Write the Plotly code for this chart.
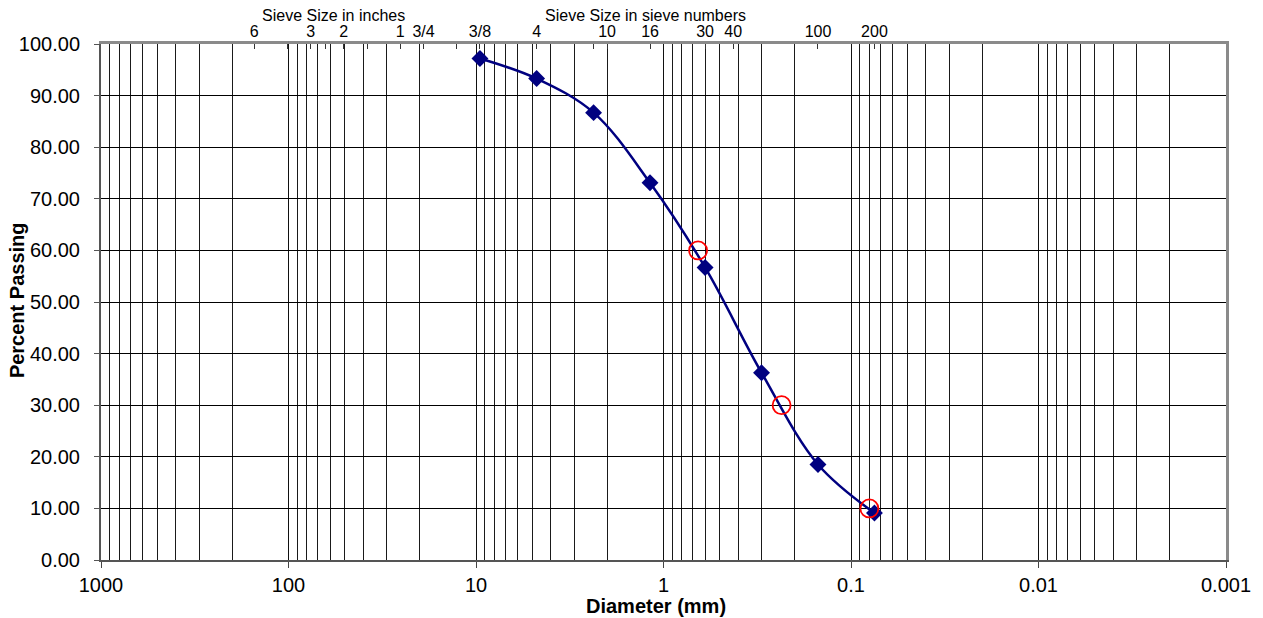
import plotly.graph_objects as go

# Sieve analysis data
sieve_mm = [9.525, 4.75, 2.36, 1.18, 0.6, 0.3, 0.15, 0.075]
percent_passing = [97.2, 93.3, 86.7, 73.1, 56.7, 36.3, 18.5, 9.1]

# D60, D30, D10 marks
d_mm = [0.654, 0.2345, 0.0798]
d_pct = [60, 30, 10]

# Bottom axis ticks
x_ticks = [1000, 100, 10, 1, 0.1, 0.01, 0.001]
x_ticktext = ["1000", "100", "10", "1", "0.1", "0.01", "0.001"]

# Top axis (sieve) ticks
top_vals = [152.4, 101.6, 76.2, 63.5, 50.8, 38.1, 25.4, 19.05, 12.7, 9.525,
            4.75, 2.36, 2.0, 1.18, 0.6, 0.425, 0.15, 0.075]
top_text = ["6", " ", "3", " ", "2", " ", "1", "3/4", " ", "3/8",
            "4", " ", "10", "16", "30", "40", "100", "200"]

y_ticks = [0, 10, 20, 30, 40, 50, 60, 70, 80, 90, 100]

minor_vals = [k * 10.0 ** e for e in range(-3, 3) for k in range(2, 10)]

FONT = "Liberation Sans, Arial, sans-serif"

fig = go.Figure()
fig.add_trace(go.Scatter(
    x=sieve_mm, y=percent_passing, mode="lines+markers",
    line=dict(color="#000080", width=2.5, shape="spline", smoothing=1.0),
    marker=dict(symbol="diamond", size=13, color="#000080"),
    showlegend=False, hoverinfo="x+y",
))
fig.add_trace(go.Scatter(
    x=d_mm, y=d_pct, mode="markers", xaxis="x2", yaxis="y2",
    marker=dict(symbol="circle-open", size=18, color="#FF0000", line=dict(width=1.8, color="#FF0000")),
    showlegend=False,
))

fig.update_layout(
    width=1263, height=618,
    margin=dict(l=101, r=35, t=44, b=58),
    paper_bgcolor="white", plot_bgcolor="white",
    font=dict(family=FONT, color="black"),
    xaxis=dict(
        type="log", range=[3, -3], tickvals=x_ticks, ticktext=x_ticktext,
        tickfont=dict(size=20), ticks="outside", ticklen=6, tickcolor="#444",
        ticklabelstandoff=0,
        showgrid=True, gridcolor="#111", gridwidth=1,
        minor=dict(tickvals=minor_vals, showgrid=True, gridcolor="#1a1a1a", gridwidth=1, ticks=""),
        showline=True, linecolor="#555", linewidth=2, zeroline=False,
    ),
    xaxis2=dict(
        type="log", range=[3, -3], overlaying="x", side="top",
        tickvals=top_vals, ticktext=top_text, tickfont=dict(size=16),
        ticks="inside", ticklen=5, tickcolor="#333", showgrid=False,
        ticklabelstandoff=-2,
        showline=True, linecolor="#8a8a8a", linewidth=3, zeroline=False,
    ),
    yaxis=dict(
        range=[0, 100], tickvals=y_ticks, tickformat=".2f",
        tickfont=dict(size=20), ticks="outside", ticklen=5, tickcolor="#555",
        ticklabelstandoff=10,
        showgrid=True, gridcolor="black", gridwidth=1,
        showline=True, linecolor="#555", linewidth=2, zeroline=False,
    ),
    yaxis2=dict(
        range=[0, 100], overlaying="y", side="right", showticklabels=False,
        ticks="", showgrid=False, showline=True, linecolor="#8a8a8a", linewidth=3,
        zeroline=False,
    ),
    annotations=[
        dict(text="<b>Diameter (mm)</b>", xref="paper", yref="paper", x=0.4934, y=-0.089,
             xanchor="center", yanchor="middle", showarrow=False, font=dict(size=20)),
        dict(text="<b>Percent Passing</b>", xref="paper", yref="paper", x=-0.0745, y=0.504,
             xanchor="center", yanchor="middle", textangle=-90, showarrow=False, font=dict(size=20)),
        dict(text="Sieve Size in inches", xref="paper", yref="paper", x=0.2067, y=1.056,
             xanchor="center", yanchor="middle", showarrow=False, font=dict(size=16)),
        dict(text="Sieve Size in sieve numbers", xref="paper", yref="paper", x=0.4836, y=1.056,
             xanchor="center", yanchor="middle", showarrow=False, font=dict(size=16)),
    ],
)

fig.write_html("out.html")
